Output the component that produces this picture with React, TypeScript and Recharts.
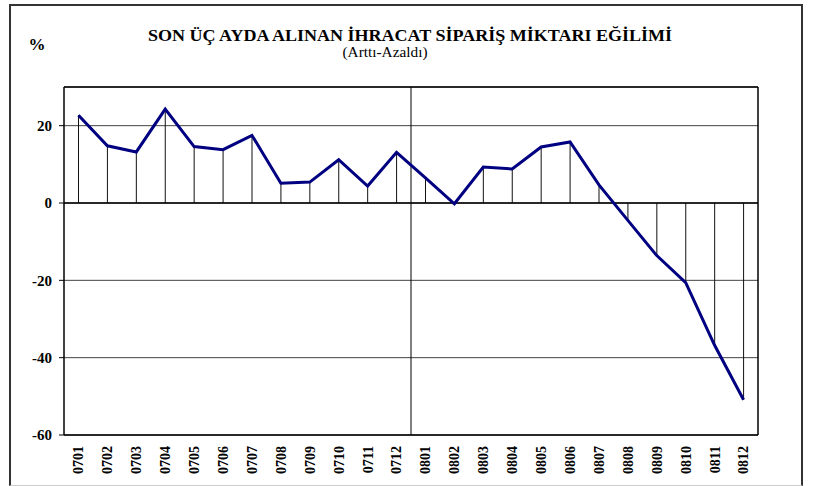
import {
  Bar,
  CartesianGrid,
  ComposedChart,
  Line,
  ReferenceLine,
  XAxis,
  YAxis,
} from "recharts";

const months = [
  "0701", "0702", "0703", "0704", "0705", "0706",
  "0707", "0708", "0709", "0710", "0711", "0712",
  "0801", "0802", "0803", "0804", "0805", "0806",
  "0807", "0808", "0809", "0810", "0811", "0812",
];

const values = [
  22.7, 14.8, 13.2, 24.3, 14.6, 13.8,
  17.5, 5.1, 5.4, 11.2, 4.4, 13.1,
  6.5, -0.2, 9.3, 8.8, 14.5, 15.8,
  4.7, -4.5, -13.6, -20.6, -36.8, -50.9,
];

const yTicks = [-60, -40, -20, 0, 20];

const data = months.map((m, i) => ({ month: m, value: values[i] }));

const serif = "Liberation Serif, Times New Roman, serif";

const MonthTick = ({ x, y, payload }: any) => (
  <g transform={`translate(${x},${y})`}>
    <text
      transform="rotate(-90)"
      textAnchor="end"
      dy="0.35em"
      style={{ fontFamily: serif, fontWeight: 700, fontSize: 14 }}
      fill="#000"
    >
      {payload.value}
    </text>
  </g>
);

const ValueTick = ({ x, y, payload }: any) => (
  <text
    x={x}
    y={y}
    textAnchor="end"
    dy="0.35em"
    style={{ fontFamily: serif, fontWeight: 700, fontSize: 15 }}
    fill="#000"
  >
    {payload.value}
  </text>
);

const App = () => (
  <div
    style={{
      position: "absolute",
      left: 0,
      top: 0,
      width: 821,
      height: 486,
      background: "#fff",
    }}
  >
    <div
      style={{
        position: "absolute",
        left: 9,
        top: 4,
        width: 790,
        height: 479,
        borderLeft: "2px solid #333",
        borderTop: "2px solid #333",
        borderRight: "2px solid #333",
        borderBottom: "1px solid #ccc",
      }}
    />
    <div style={{ position: "absolute", left: 0, top: 0 }}>
      <ComposedChart
        width={821}
        height={486}
        data={data}
        margin={{ top: 87, right: 63, bottom: 6, left: 14 }}
        barCategoryGap={0}
      >
        <CartesianGrid vertical={false} stroke="#444" strokeWidth={1} />
        <XAxis
          dataKey="month"
          interval={0}
          axisLine={{ stroke: "#000", strokeWidth: 1.5 }}
          tickLine={false}
          tickSize={0}
          tickMargin={11}
          height={45}
          tick={<MonthTick />}
        />
        <YAxis
          domain={[-60, 30]}
          ticks={yTicks}
          width={50}
          axisLine={{ stroke: "#000", strokeWidth: 1.5 }}
          tickLine={{ stroke: "#000" }}
          tickSize={5}
          tickMargin={7}
          tick={<ValueTick />}
        />
        <ReferenceLine y={30} stroke="#000" strokeWidth={1.5} />
        <ReferenceLine x="0812" position="end" stroke="#000" strokeWidth={1.5} />
        <ReferenceLine x="0801" position="start" stroke="#000" strokeWidth={1} />
        <ReferenceLine y={0} stroke="#000" strokeWidth={1.5} />
        <Bar dataKey="value" barSize={1} fill="#111" isAnimationActive={false} />
        <Line
          type="linear"
          dataKey="value"
          stroke="#000080"
          strokeWidth={3}
          dot={false}
          activeDot={false}
          isAnimationActive={false}
        />
      </ComposedChart>
    </div>
    <svg
      width={821}
      height={486}
      style={{ position: "absolute", left: 0, top: 0, pointerEvents: "none" }}
    >
      <text
        x={37}
        y={50}
        textAnchor="middle"
        style={{ fontFamily: serif, fontWeight: 700, fontSize: 17 }}
      >
        %
      </text>
      <text
        x={410}
        y={41}
        textAnchor="middle"
        style={{ fontFamily: serif, fontWeight: 700, fontSize: 16 }}
        textLength={524}
        lengthAdjust="spacingAndGlyphs"
      >
        SON ÜÇ AYDA ALINAN İHRACAT SİPARİŞ MİKTARI EĞİLİMİ
      </text>
      <text
        x={385}
        y={57}
        textAnchor="middle"
        style={{ fontFamily: serif, fontSize: 14 }}
        textLength={85}
        lengthAdjust="spacingAndGlyphs"
      >
        (Arttı-Azaldı)
      </text>
    </svg>
  </div>
);

export default App;
